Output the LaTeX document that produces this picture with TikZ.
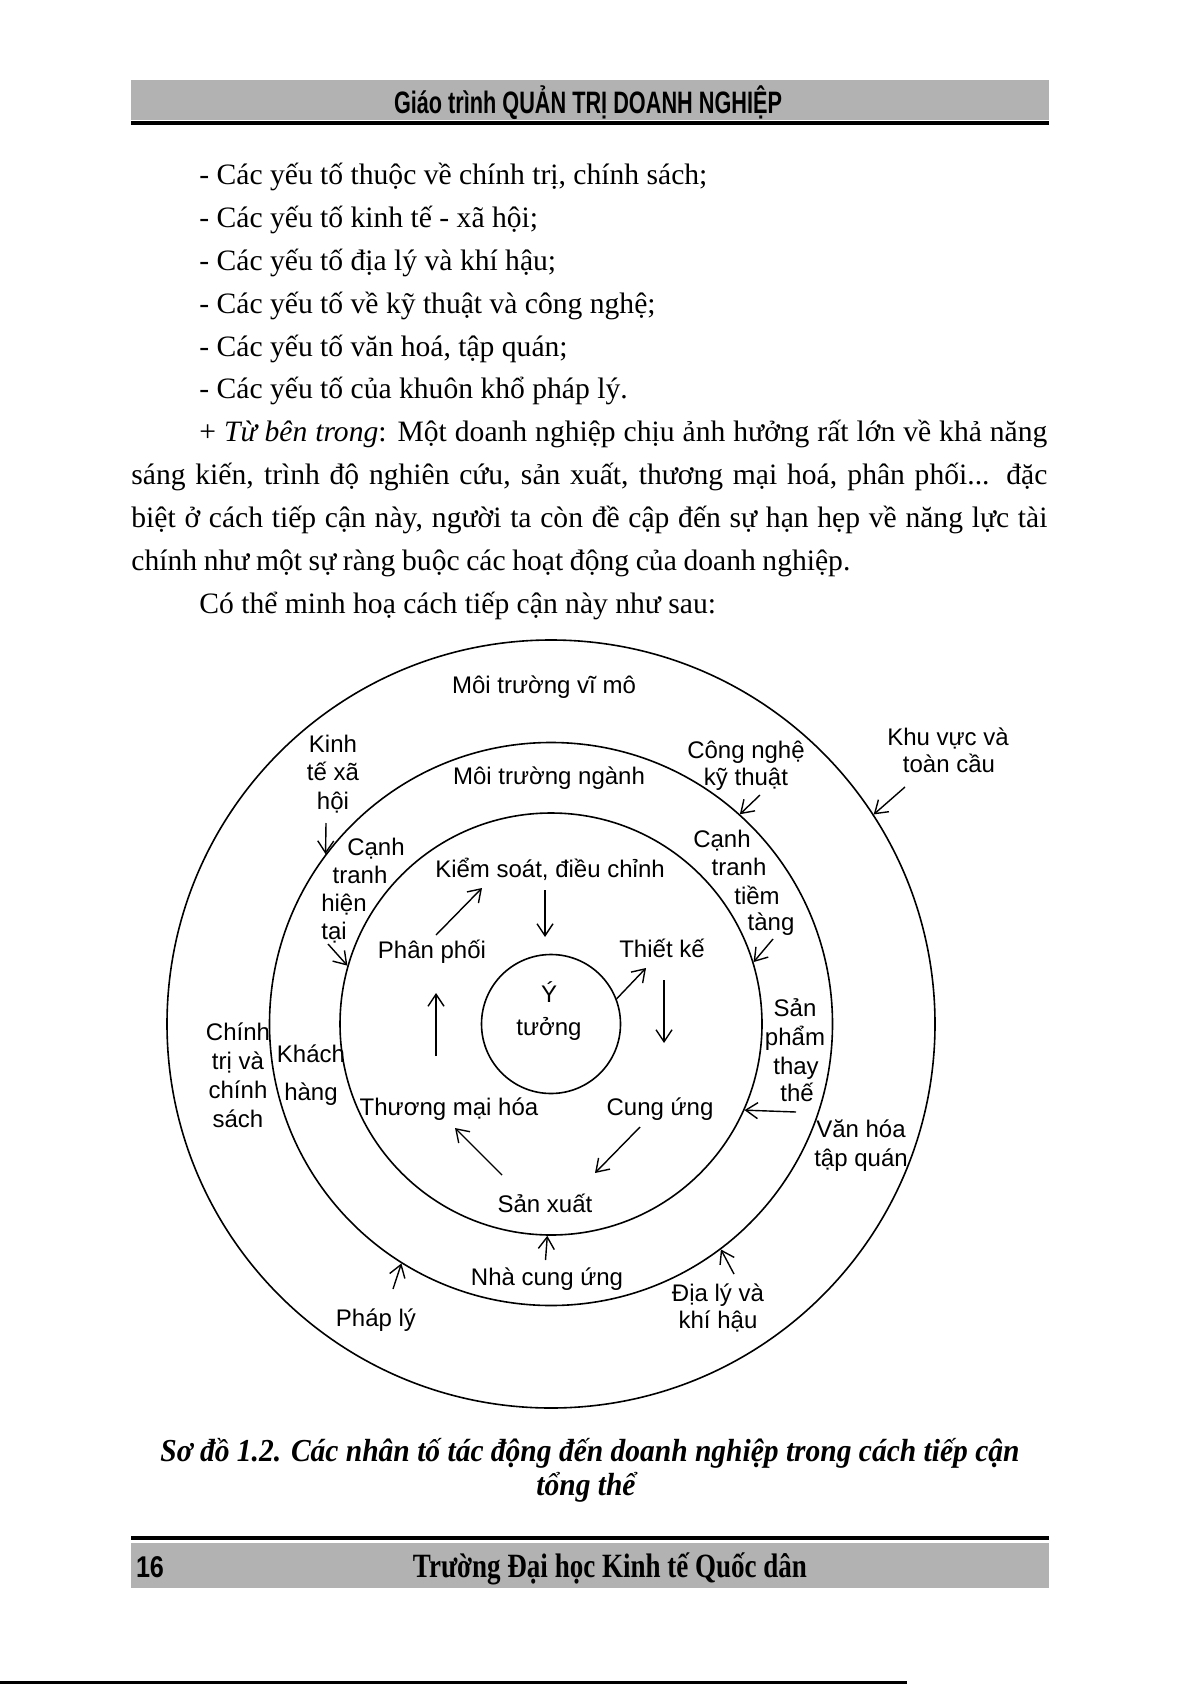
\documentclass[tikz,border=0pt]{standalone}
\usepackage{fontspec}
\usepackage{graphicx}
\setmainfont{Liberation Serif}
\setsansfont{Liberation Sans}
\usetikzlibrary{arrows.meta}
\newcommand\fitw[2]{\resizebox{#1}{\height}{#2}}
\newsavebox\capbox
\newlength\caplen
\begin{document}
\sbox\capbox{\bfseries\itshape\fontsize{16}{19}\selectfont Sơ đồ 1.2. Các nhân tố tác động đến doanh nghiệp trong cách tiếp cận}%
\setlength\caplen{\wd\capbox}%
\pgfmathsetmacro\capsc{429.5pt/\caplen}%
\begin{tikzpicture}[x=0.5pt,y=-0.5pt,
  lbl/.style={font=\sffamily\fontsize{12}{14}\selectfont, inner sep=0pt, anchor=base},
  body/.style={font=\fontsize{14.8}{18}\selectfont, inner sep=0pt, anchor=base west},
  ring/.style={draw, circle, line width=0.8pt, inner sep=0pt},
  arr/.style={line width=0.7pt, -{Straight Barb[length=6pt,width=8pt]}},
  bandfill/.style={fill=black!30}]
\useasboundingbox (0,0) rectangle (1192,1684);
\fill[white] (0,0) rectangle (1192,1684);

% header
\fill[bandfill] (131,80) rectangle (1049,120);
\fill[black] (131,121) rectangle (1049,125);
\node (hdr) [inner sep=0pt, anchor=base] at (588,114) {\fitw{194pt}{\sffamily\bfseries\fontsize{15.5}{18}\selectfont Giáo trình QUẢN TRỊ DOANH NGHIỆP}};

% body text
\node[body] (l1) at (199,185) {- Các yếu tố thuộc về chính trị, chính sách;};
\node[body] (l2) at (199,227.8) {- Các yếu tố kinh tế - xã hội;};
\node[body] (l3) at (199,270.6) {- Các yếu tố địa lý và khí hậu;};
\node[body] (l4) at (199,313.4) {- Các yếu tố về kỹ thuật và công nghệ;};
\node[body] (l5) at (199,356.2) {- Các yếu tố văn hoá, tập quán;};
\node[body] (l6) at (199,399) {- Các yếu tố của khuôn khổ pháp lý.};
\node[body] (p1) at (199,441.8) {\makebox[424pt][s]{+ \textit{Từ bên trong}: Một doanh nghiệp chịu ảnh hưởng rất lớn về khả năng}};
\node[body] (p2) at (131,484.6) {\makebox[458pt][s]{sáng kiến, trình độ nghiên cứu, sản xuất, thương mại hoá, phân phối... đặc}};
\node[body] (p3) at (131,527.4) {\makebox[458pt][s]{biệt ở cách tiếp cận này, người ta còn đề cập đến sự hạn hẹp về năng lực tài}};
\node[body] (p4) at (131,570.2) {\makebox[359.5pt][s]{chính như một sự ràng buộc các hoạt động của doanh nghiệp.}};
\node[body] (p5) at (199,613) {Có thể minh hoạ cách tiếp cận này như sau:};

% rings
\node[ring, minimum size=384pt] (outer) at (551,1024) {};
\node[ring, minimum size=281.5pt] (middle) at (551,1024) {};
\node[ring, minimum size=211pt] (inner) at (551,1024) {};
\node[ring, minimum size=69.5pt] (core) at (551,1024) {};

% labels
\node[lbl] (mtvm) at (544,693) {Môi trường vĩ mô};
\node[lbl] (kt1) at (333,752) {Kinh};
\node[lbl] (kt2) at (333,780) {tế xã};
\node[lbl] (kt3) at (333,809) {hội};
\node[lbl] (mtn) at (549,784) {Môi trường ngành};
\node[lbl] (cn1) at (746,758) {Công nghệ};
\node[lbl] (cn2) at (746,785) {kỹ thuật};
\node[lbl] (kv1) at (948,745) {Khu vực và};
\node[lbl] (kv2) at (949,772) {toàn cầu};
\node[lbl] (cl1) at (376,855) {Cạnh};
\node[lbl] (cl2) at (360,883) {tranh};
\node[lbl] (cl3) at (344,911) {hiện};
\node[lbl] (cl4) at (334,939) {tại};
\node[lbl] (ks) at (550,877) {Kiểm soát, điều chỉnh};
\node[lbl] (cr1) at (722,847) {Cạnh};
\node[lbl] (cr2) at (739,875) {tranh};
\node[lbl] (cr3) at (757,904) {tiềm};
\node[lbl] (cr4) at (771,930) {tàng};
\node[lbl] (pp) at (432,958) {Phân phối};
\node[lbl] (tk) at (662,957) {Thiết kế};
\node[lbl] (yt1) at (549,1002) {Ý};
\node[lbl] (yt2) at (549,1035) {tưởng};
\node[lbl] (sp1) at (795,1016) {Sản};
\node[lbl] (sp2) at (795,1045) {phẩm};
\node[lbl] (sp3) at (796,1074) {thay};
\node[lbl] (sp4) at (797,1101) {thế};
\node[lbl] (ch1) at (238,1040) {Chính};
\node[lbl] (ch2) at (238,1069) {trị và};
\node[lbl] (ch3) at (238,1098) {chính};
\node[lbl] (ch4) at (238,1127) {sách};
\node[lbl] (kh1) at (311,1062) {Khách};
\node[lbl] (kh2) at (311,1100) {hàng};
\node[lbl] (tm) at (449,1115) {Thương mại hóa};
\node[lbl] (cu) at (660,1115) {Cung ứng};
\node[lbl] (vh1) at (861,1137) {Văn hóa};
\node[lbl] (vh2) at (861,1166) {tập quán};
\node[lbl] (sx) at (545,1212) {Sản xuất};
\node[lbl] (ncu) at (547,1285) {Nhà cung ứng};
\node[lbl] (pl) at (376,1326) {Pháp lý};
\node[lbl] (dl1) at (718,1301) {Địa lý và};
\node[lbl] (dl2) at (718,1328) {khí hậu};

% arrows from outside factors
\coordinate (t1) at (326,823);
\coordinate (t2) at (760,795);
\coordinate (t3) at (905,787);
\coordinate (t4) at (328,944);
\coordinate (t5) at (773,939);
\coordinate (t6) at (796,1112);
\coordinate (t7) at (734,1274);
\coordinate (t8) at (393,1289);
\coordinate (t9) at (545.5,1260);
\draw[arr] (t1) -- (middle.143);
\draw[arr] (t2) -- (middle.48);
\draw[arr] (t3) -- (outer.33);
\draw[arr] (t4) -- (inner.164);
\draw[arr] (t5) -- (inner.17.5);
\draw[arr] (t6) -- (inner.-24.5);
\draw[arr] (t7) -- (middle.-53.5);
\draw[arr] (t8) -- (middle.238);
\draw[arr] (t9) -- (inner.-91.5);

% inner cycle arrows
\coordinate (b1s) at (436,935);  \coordinate (b1e) at (482,888);
\coordinate (b2s) at (545,890);  \coordinate (b2e) at (545,937);
\coordinate (b3e) at (646,968);
\coordinate (b4s) at (664,980);  \coordinate (b4e) at (664,1043);
\coordinate (b5s) at (640,1127); \coordinate (b5e) at (595,1173);
\coordinate (b6s) at (502,1175); \coordinate (b6e) at (455,1128);
\coordinate (b7s) at (436,1056); \coordinate (b7e) at (436,993);
\draw[arr] (b1s) -- (b1e);
\draw[arr] (b2s) -- (b2e);
\draw[arr] (core.21) -- (b3e);
\draw[arr] (b4s) -- (b4e);
\draw[arr] (b5s) -- (b5e);
\draw[arr] (b6s) -- (b6e);
\draw[arr] (b7s) -- (b7e);

% caption
\node (cap1) [inner sep=0pt, anchor=base] at (590,1461) {\scalebox{\capsc}[1]{\usebox\capbox}};
\node (cap2) [inner sep=0pt, anchor=base] at (586,1495) {\scalebox{\capsc}[1]{\bfseries\itshape\fontsize{16}{19}\selectfont tổng thể}};

% footer
\fill[black] (131,1536) rectangle (1049,1540);
\fill[bandfill] (131,1543) rectangle (1049,1588);
\node (pg) [inner sep=0pt, anchor=base] at (150,1577) {\fitw{14pt}{\sffamily\bfseries\fontsize{15}{18}\selectfont 16}};
\node (ftr) [inner sep=0pt, anchor=base] at (610,1577) {\fitw{197pt}{\bfseries\fontsize{17}{20}\selectfont Trường Đại học Kinh tế Quốc dân}};
\draw[line width=1.5pt] (0,1682) -- (907,1682);
\end{tikzpicture}
\end{document}
